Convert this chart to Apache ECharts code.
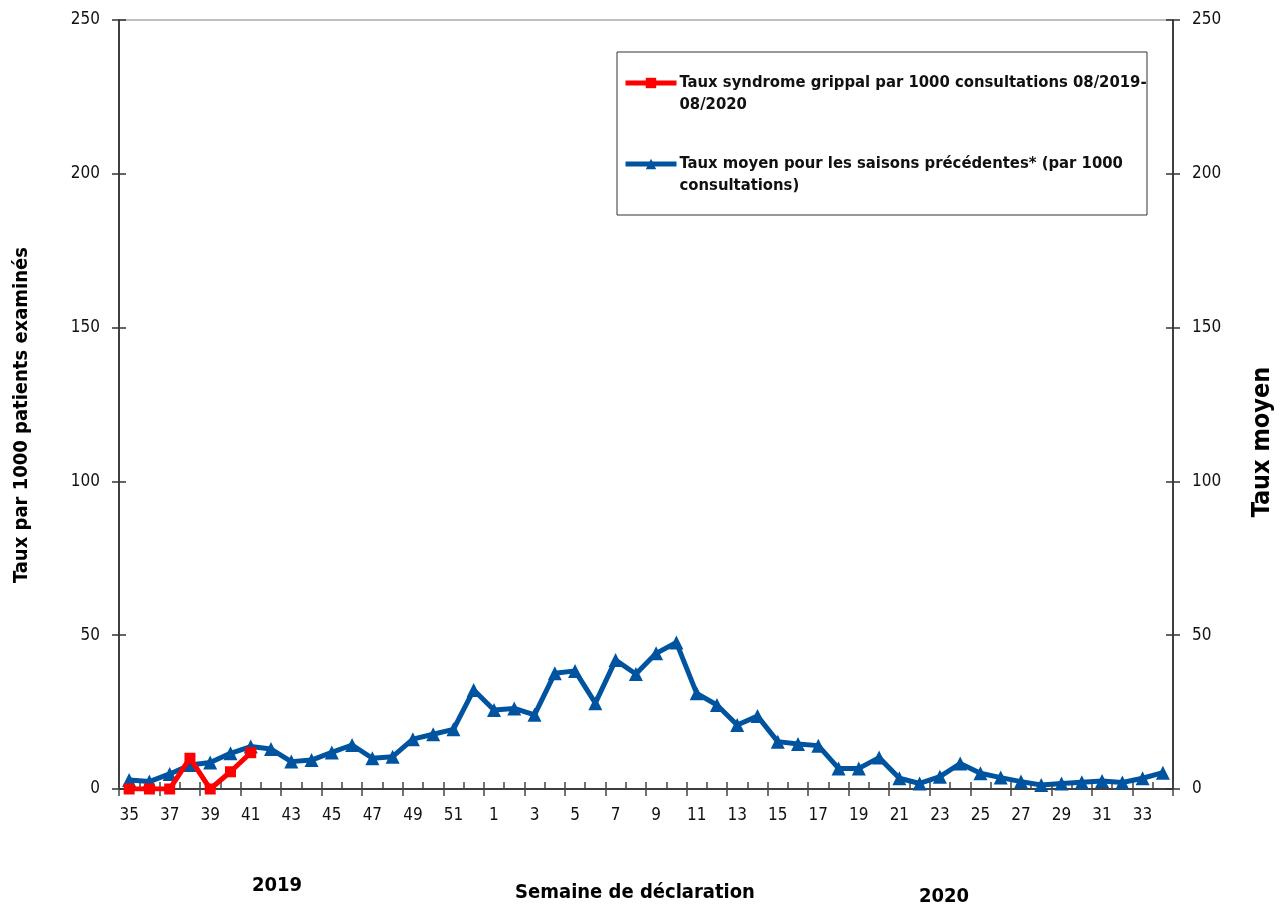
<!DOCTYPE html>
<html><head><meta charset="utf-8">
<script src="https://cdn.jsdelivr.net/npm/echarts@6/dist/echarts.min.js"></script>
<style>html,body{margin:0;padding:0;background:#fff}#c{width:1288px;height:912px}</style>
</head><body><div id="c"></div>
<script>
const weeks = ['35','36','37','38','39','40','41','42','43','44','45','46','47','48','49','50','51','52',
  '1','2','3','4','5','6','7','8','9','10','11','12','13','14','15','16','17','18','19','20','21','22','23','24','25','26','27','28','29','30','31','32','33','34'];
const tauxSaison = [0, 0, 0, 10, 0, 5.6, 11.8];
const tauxMoyen = [2.9, 2.4, 4.9, 7.8, 8.6, 11.6, 13.8, 13.0, 8.9, 9.4, 11.9, 14.3, 10.0, 10.5, 16.2, 17.8, 19.4, 32.2,
  25.7, 26.2, 24.1, 37.6, 38.4, 27.9, 41.9, 37.4, 44.1, 47.6, 31.1, 27.3, 20.8, 23.7, 15.4, 14.6, 14.1, 6.7, 6.7, 10.2,
  3.5, 1.8, 4.0, 8.3, 5.1, 3.7, 2.4, 1.3, 1.8, 2.2, 2.6, 2.1, 3.5, 5.3];
const yTicks = [0, 50, 100, 150, 200, 250];
const nameSaison = 'Taux syndrome grippal par 1000 consultations 08/2019-\n08/2020';
const nameMoyen = 'Taux moyen pour les saisons précédentes* (par 1000\nconsultations)';

const FONT = '"Liberation Sans Narrow","Arial Narrow","DejaVu Sans Condensed","Liberation Sans",sans-serif';
const chart = echarts.init(document.getElementById('c'), null, {renderer: 'canvas'});
const yBase = {type: 'value', min: yTicks[0], max: yTicks[yTicks.length - 1], interval: yTicks[1] - yTicks[0], splitLine: {show: false}};
chart.setOption({
  animation: false,
  textStyle: {fontFamily: FONT},
  grid: {left: 119, right: 115, top: 20, bottom: 123},
  xAxis: [
    {type: 'category', data: weeks, boundaryGap: true,
     axisLine: {lineStyle: {color: '#000', width: 1.5}},
     axisTick: {show: true, length: 7, lineStyle: {color: '#444', width: 1.5}},
     axisLabel: {interval: 1, color: '#111', fontSize: 17, margin: 18, fontFamily: FONT}},
    {type: 'category', data: weeks, boundaryGap: true, position: 'bottom',
     axisLine: {show: false}, axisLabel: {show: false},
     axisTick: {show: true, inside: true, length: 7, lineStyle: {color: '#444', width: 1.5}}}
  ],
  yAxis: [
    Object.assign({}, yBase, {position: 'left',
      axisLine: {show: true, lineStyle: {color: '#000', width: 1.5}},
      axisTick: {show: true, length: 7, lineStyle: {color: '#333', width: 1.5}},
      axisLabel: {color: '#111', fontSize: 17, margin: 19, fontFamily: FONT}}),
    Object.assign({}, yBase, {position: 'right',
      axisLine: {show: true, lineStyle: {color: '#000', width: 1.5}},
      axisTick: {show: true, length: 7, lineStyle: {color: '#333', width: 1.5}},
      axisLabel: {color: '#111', fontSize: 17, margin: 19, fontFamily: FONT}}),
    Object.assign({}, yBase, {position: 'left', axisLine: {show: false}, axisLabel: {show: false},
      axisTick: {show: true, inside: true, length: 7, lineStyle: {color: '#333', width: 1.5}}}),
    Object.assign({}, yBase, {position: 'right', axisLine: {show: false}, axisLabel: {show: false},
      axisTick: {show: true, inside: true, length: 7, lineStyle: {color: '#333', width: 1.5}}})
  ],
  legend: {
    orient: 'vertical', left: 623, top: 50, padding: 0, itemGap: 15,
    itemWidth: 51, itemHeight: 13,
    lineStyle: {width: 5},
    data: [nameSaison, nameMoyen],
    formatter: n => '\n' + n,
    textStyle: {fontFamily: FONT, fontSize: 16.5, lineHeight: 22, color: '#111', fontWeight: 'bold', padding: [0, 0, 0, -2]}
  },
  graphic: [
    {type: 'rect', shape: {x: 617, y: 52, width: 530, height: 163}, style: {fill: 'none', stroke: '#333', lineWidth: 1}, z: 0},
    {type: 'line', shape: {x1: 119, y1: 20, x2: 1173, y2: 20}, style: {stroke: '#aaa', lineWidth: 1.5}},
    {type: 'text', x: 22, y: 415, rotation: Math.PI / 2, style: {text: 'Taux par 1000 patients examinés', font: 'bold 20px ' + FONT, fill: '#000', align: 'center', verticalAlign: 'middle'}},
    {type: 'text', x: 1262, y: 442, rotation: Math.PI / 2, style: {text: 'Taux moyen', font: 'bold 25px ' + FONT, fill: '#000', align: 'center', verticalAlign: 'middle'}},
    {type: 'text', x: 635, y: 893, style: {text: 'Semaine de déclaration', font: 'bold 20px ' + FONT, fill: '#000', align: 'center', verticalAlign: 'middle'}},
    {type: 'text', x: 277, y: 886, style: {text: '2019', font: 'bold 20px ' + FONT, fill: '#000', align: 'center', verticalAlign: 'middle'}},
    {type: 'text', x: 944, y: 897, style: {text: '2020', font: 'bold 20px ' + FONT, fill: '#000', align: 'center', verticalAlign: 'middle'}}
  ],
  series: [
    {name: nameMoyen, type: 'line', yAxisIndex: 1, data: tauxMoyen, showAllSymbol: true,
     symbol: 'triangle', symbolSize: 14, lineStyle: {color: '#00549F', width: 5},
     itemStyle: {color: '#00549F'}, z: 2},
    {name: nameSaison, type: 'line', yAxisIndex: 0, data: tauxSaison, showAllSymbol: true,
     symbol: 'rect', symbolSize: 11, lineStyle: {color: '#FF0000', width: 5},
     itemStyle: {color: '#FF0000'}, z: 3}
  ]
});
</script></body></html>
